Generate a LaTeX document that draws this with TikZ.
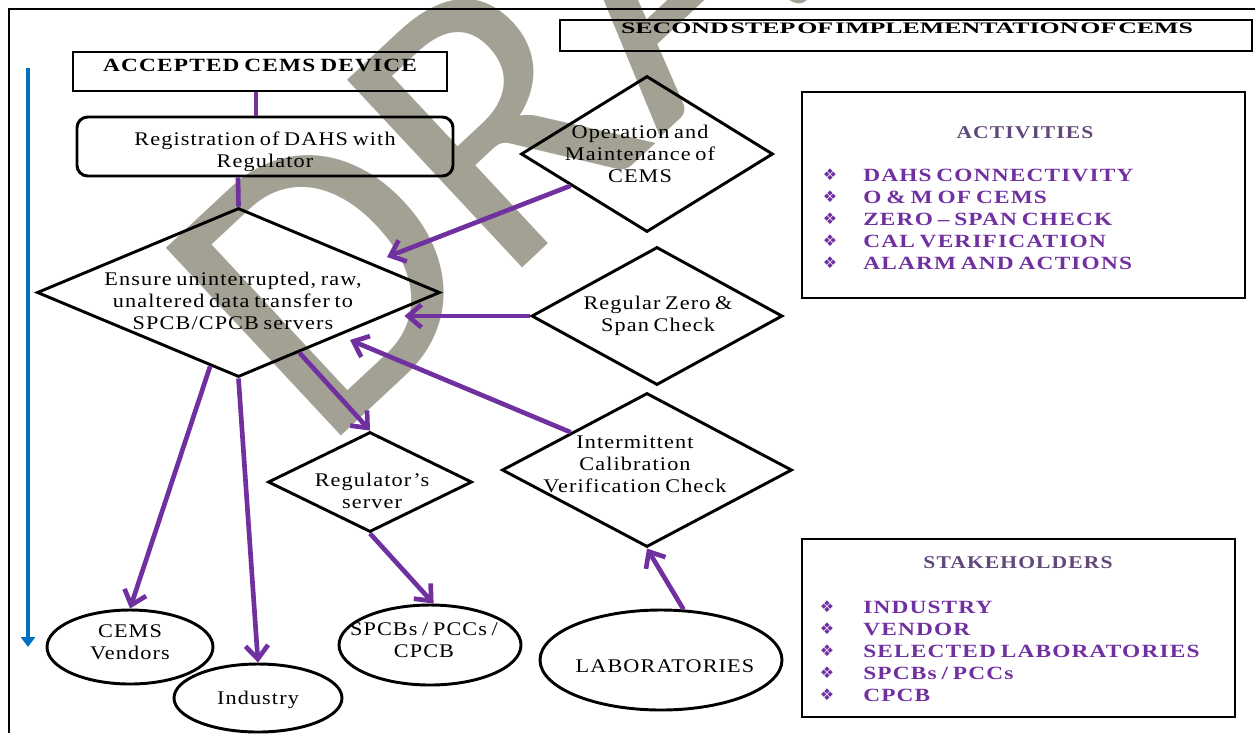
\documentclass[tikz,border=0pt]{standalone}
\usepackage{fontspec}
\usepackage{graphicx}
\setmainfont{Liberation Serif}[LetterSpace=5,WordSpace=0.7]
\newfontfamily\tightserif{Liberation Serif}[WordSpace=0.3]
\newfontfamily\wmfont{Carlito}
\newfontfamily\symfont{DejaVu Sans}
\usetikzlibrary{shapes.geometric,arrows.meta,calc}
\definecolor{linkpurple}{HTML}{7030A0}
\definecolor{listpurple}{HTML}{7030A0}
\definecolor{headpurple}{RGB}{96,73,122}
\definecolor{flowblue}{HTML}{0070C0}
\definecolor{wmgray}{RGB}{163,161,148}
\newdimen\pxu \pxu=0.75pt
% wide lettering: horizontal stretch of a line or a centred block of lines
\newcommand\hs[2]{\scalebox{#1}[1]{#2}}
\newcommand\rows[1]{\begin{tabular}{@{}c@{}}#1\end{tabular}}
\begin{document}
\begin{tikzpicture}[x=0.75pt,y=-0.75pt,
  outline/.style={draw=black,line width=2.2pt},
  rbox/.style={rectangle,outline,inner sep=0pt},
  dia/.style={diamond,outline,inner sep=0pt},
  oval/.style={ellipse,outline,inner sep=0pt},
  body/.style={font=\fontsize{14.5pt}{16.5pt}\selectfont,inner sep=0pt,yshift=-2.4pt},
  link/.style={draw=linkpurple,line width=3.5pt},
  arr/.style={link,-{Straight Barb[length=10pt,width=17pt]}},
  item/.style={font=\bfseries\fontsize{14pt}{16.5pt}\selectfont,text=listpurple,anchor=west,inner sep=0pt},
  bul/.style={font=\symfont\fontsize{12pt}{14pt}\selectfont,text=listpurple,inner sep=0pt},
  head/.style={font=\bfseries\fontsize{13.5pt}{16pt}\selectfont,text=headpurple,inner sep=0pt},
  wm/.style={font=\wmfont\fontsize{300pt}{300pt}\selectfont,text=wmgray,rotate=43,anchor=base west,inner sep=0pt}]

\useasboundingbox (0,0) rectangle (1255,733);

% watermark behind everything
\begin{scope}
  \clip (0,0) rectangle (1255,733);
  \node[wm] (draft) at (321,455) {DRAFT};
\end{scope}

% page frame
\draw[line width=2.2pt] (9,733) -- (9,9) -- (1255,9);

% heading
\node[rbox,minimum width=692\pxu,minimum height=31\pxu] (title) at (906,35.5) {};
\node[inner sep=0pt] (titletext) at (907,28)
  {\resizebox{429pt}{\height}{\tightserif\bfseries\fontsize{12pt}{14pt}\selectfont SECOND STEP OF IMPLEMENTATION OF CEMS}};

% timeline arrow
\coordinate (flowtop) at (28,68);
\coordinate (flowend) at (28,647);
\draw[flowblue,line width=3.5pt,-{Triangle[length=7.5pt,width=10.5pt]}] (flowtop) -- (flowend);

% flow shapes
\node[rbox,minimum width=374\pxu,minimum height=39\pxu] (acc) at (260,71.5) {};
\node[font=\bfseries\fontsize{14pt}{16pt}\selectfont,inner sep=0pt] (acctext) at (260,65) {\hs{1.25}{ACCEPTED CEMS DEVICE}};

\node[rbox,rounded corners=8pt,minimum width=376\pxu,minimum height=59\pxu] (reg) at (265,146.5) {};
\node[body] (regtext) at (265,148.5) {\hs{1.15}{\rows{Registration of DAHS with\\Regulator}}};

\node[dia,minimum width=403\pxu,minimum height=169\pxu] (big) at (238.5,292.5) {};
\node[body] (bigtext) at (233,300) {\hs{1.15}{\rows{Ensure uninterrupted, raw,\\unaltered data transfer to\\SPCB/CPCB servers}}};

\node[dia,minimum width=252\pxu,minimum height=156\pxu] (op) at (647,154) {};
\node[body] (optext) at (640,153) {\hs{1.15}{\rows{Operation and\\Maintenance of\\CEMS}}};

\node[dia,minimum width=251\pxu,minimum height=138\pxu] (zero) at (657,316) {};
\node[body] (zerotext) at (658,313) {\hs{1.15}{\rows{Regular Zero \&\\Span Check}}};

\node[dia,minimum width=290\pxu,minimum height=154\pxu] (cal) at (647,470) {};
\node[body] (caltext) at (635,462.5) {\hs{1.15}{\rows{Intermittent\\Calibration\\Verification Check}}};

\node[dia,minimum width=204\pxu,minimum height=100\pxu] (rs) at (370,482) {};
\node[body] (rstext) at (372,490) {\hs{1.15}{\rows{Regulator’s\\server}}};

\node[oval,minimum width=166\pxu,minimum height=74\pxu] (ven) at (130,647) {};
\node[body] (ventext) at (130,641) {\hs{1.15}{\rows{CEMS\\Vendors}}};

\node[oval,minimum width=168\pxu,minimum height=68\pxu] (ind) at (258,698) {};
\node[body] (indtext) at (258,697) {\hs{1.15}{Industry}};

\node[oval,minimum width=182\pxu,minimum height=80\pxu] (spcb) at (430,645) {};
\node[body] (spcbtext) at (424,639) {\hs{1.15}{\rows{SPCBs / PCCs /\\CPCB}}};

\node[oval,minimum width=242\pxu,minimum height=100\pxu] (lab) at (661,660) {};
\node[body] (labtext) at (665,663) {\hs{1.15}{LABORATORIES}};

% connectors
\draw[link] ($(acc.south)+(-4,0)$) -- ($(reg.north)+(-9,0)$);
\draw[link] ($(reg.south)+(-27,0)$) -- (big.north);
\draw[arr] ($(op.west)!0.4!(op.south)$) -- ($(big.center)+(148.5,-35.5)$);
\path ($(big.east)+(-37,0)$) coordinate (ztip);
\draw[arr] (zero.west) -- (ztip |- zero.west);
\draw[arr] ($(cal.north)!0.52!(cal.west)$) -- ($(big.center)+(111.5,47.5)$);
\draw[arr] ($(big.south)!0.3!(big.east)$) -- (rs.north);
\draw[arr] ($(big.south)!0.14!(big.west)$) -- (ven.north);
\draw[arr] (big.south) -- (ind.north);
\draw[arr] (rs.south) -- (spcb.85);
\draw[arr] (lab.66) -- (cal.south);

% activities panel
\node[rbox,minimum width=443\pxu,minimum height=206\pxu] (actbox) at (1023.5,195) {};
\node[head] (acthead) at (1025,133) {\hs{1.2}{ACTIVITIES}};
\foreach \t [count=\i] in {DAHS CONNECTIVITY,O \& M OF CEMS,ZERO – SPAN CHECK,CAL VERIFICATION,ALARM AND ACTIONS}{
  \node[bul] (actbul\i) at (830,{175+(\i-1)*22}) {❖};
  \node[item] (actitem\i) at (863,{175+(\i-1)*22}) {\hs{1.25}{\t}};
}

% stakeholders panel
\node[rbox,minimum width=433\pxu,minimum height=178\pxu] (stkbox) at (1018.5,628) {};
\node[head] (stkhead) at (1018,563) {\hs{1.2}{STAKEHOLDERS}};
\foreach \t [count=\i] in {INDUSTRY,VENDOR,SELECTED LABORATORIES,SPCBs / PCCs,CPCB}{
  \node[bul] (stkbul\i) at (827,{607+(\i-1)*22}) {❖};
  \node[item] (stkitem\i) at (863,{607+(\i-1)*22}) {\hs{1.25}{\t}};
}
\end{tikzpicture}
\end{document}
